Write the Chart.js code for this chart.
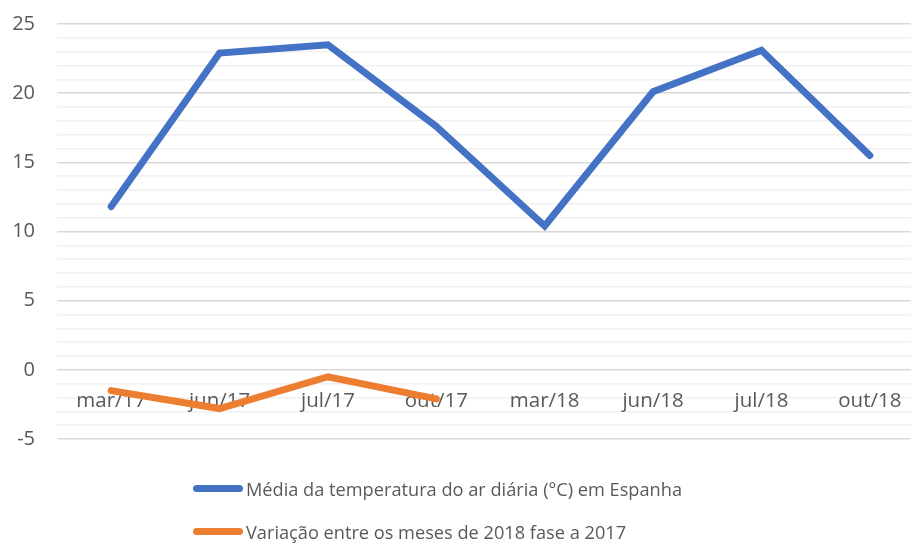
<!DOCTYPE html>
<html>
<head>
<meta charset="utf-8">
<script src="https://cdn.jsdelivr.net/npm/chart.js@4/dist/chart.umd.min.js"></script>
<style>
  html, body { margin: 0; padding: 0; background: #fff; overflow: hidden; }
  #wrap { position: absolute; left: 0; top: -10px; width: 930px; height: 483px; }
  #legend { position: absolute; left: 193px; top: 467px; font-family: "Open Sans", sans-serif; font-size: 18.2px; color: #595959; }
  .item { height: 43px; display: flex; align-items: center; }
  .swatch { width: 50px; height: 7px; border-radius: 4px; margin-right: 3px; }
</style>
</head>
<body>
<div id="wrap"><canvas id="tempChart" width="930" height="483"></canvas></div>
<div id="legend"></div>
<script>
// meses
const months = ['mar/17', 'jun/17', 'jul/17', 'out/17', 'mar/18', 'jun/18', 'jul/18', 'out/18'];
// média da temperatura do ar diária
const mediaTemp = [11.8, 22.9, 23.5, 17.6, 10.4, 20.1, 23.1, 15.5];
// variação 2018 vs 2017
const variacao = [-1.5, -2.8, -0.5, -2.1, null, null, null, null];
const seriesNames = [
  'Média da temperatura do ar diária (°C) em Espanha',
  'Variação entre os meses de 2018 fase a 2017'
];
const seriesColors = ['#4472C4', '#ED7D31'];
const yMin = -5, yMax = 25, yMajor = 5;

const chart = new Chart(document.getElementById('tempChart'), {
  type: 'line',
  data: {
    labels: months,
    datasets: [
      { label: seriesNames[0], data: mediaTemp, borderColor: seriesColors[0], backgroundColor: seriesColors[0] },
      { label: seriesNames[1], data: variacao, borderColor: seriesColors[1], backgroundColor: seriesColors[1] }
    ]
  },
  options: {
    responsive: false,
    animation: false,
    layout: { padding: { top: 13, right: 6, bottom: 12, left: 0 } },
    elements: {
      line: { borderWidth: 7, borderCapStyle: 'round', tension: 0 },
      point: { radius: 0, hoverRadius: 0 }
    },
    plugins: { legend: { display: false }, tooltip: { enabled: false } },
    scales: {
      x: {
        offset: true,
        position: { y: 0 },
        grid: { display: false, drawTicks: false },
        border: { display: false },
        ticks: { color: '#595959', font: { family: 'Open Sans', size: 20.5 }, padding: 19, maxRotation: 0, autoSkip: false }
      },
      y: {
        min: yMin,
        max: yMax,
        afterFit: s => { s.width = 57; },
        border: { display: false },
        grid: {
          drawTicks: false,
          lineWidth: 1.5,
          color: ctx => (ctx.tick && ctx.tick.value % yMajor === 0) ? '#d9d9d9' : '#f0f0f0'
        },
        ticks: {
          stepSize: 1,
          autoSkip: false,
          padding: 22,
          color: '#595959',
          font: { family: 'Open Sans', size: 20 },
          callback: v => (v % yMajor === 0 ? v : '')
        }
      }
    }
  }
});

// legenda
const legend = document.getElementById('legend');
seriesNames.forEach((name, i) => {
  legend.innerHTML += `<div class="item"><span class="swatch" style="background:${seriesColors[i]}"></span>${name}</div>`;
});
</script>
</body>
</html>
